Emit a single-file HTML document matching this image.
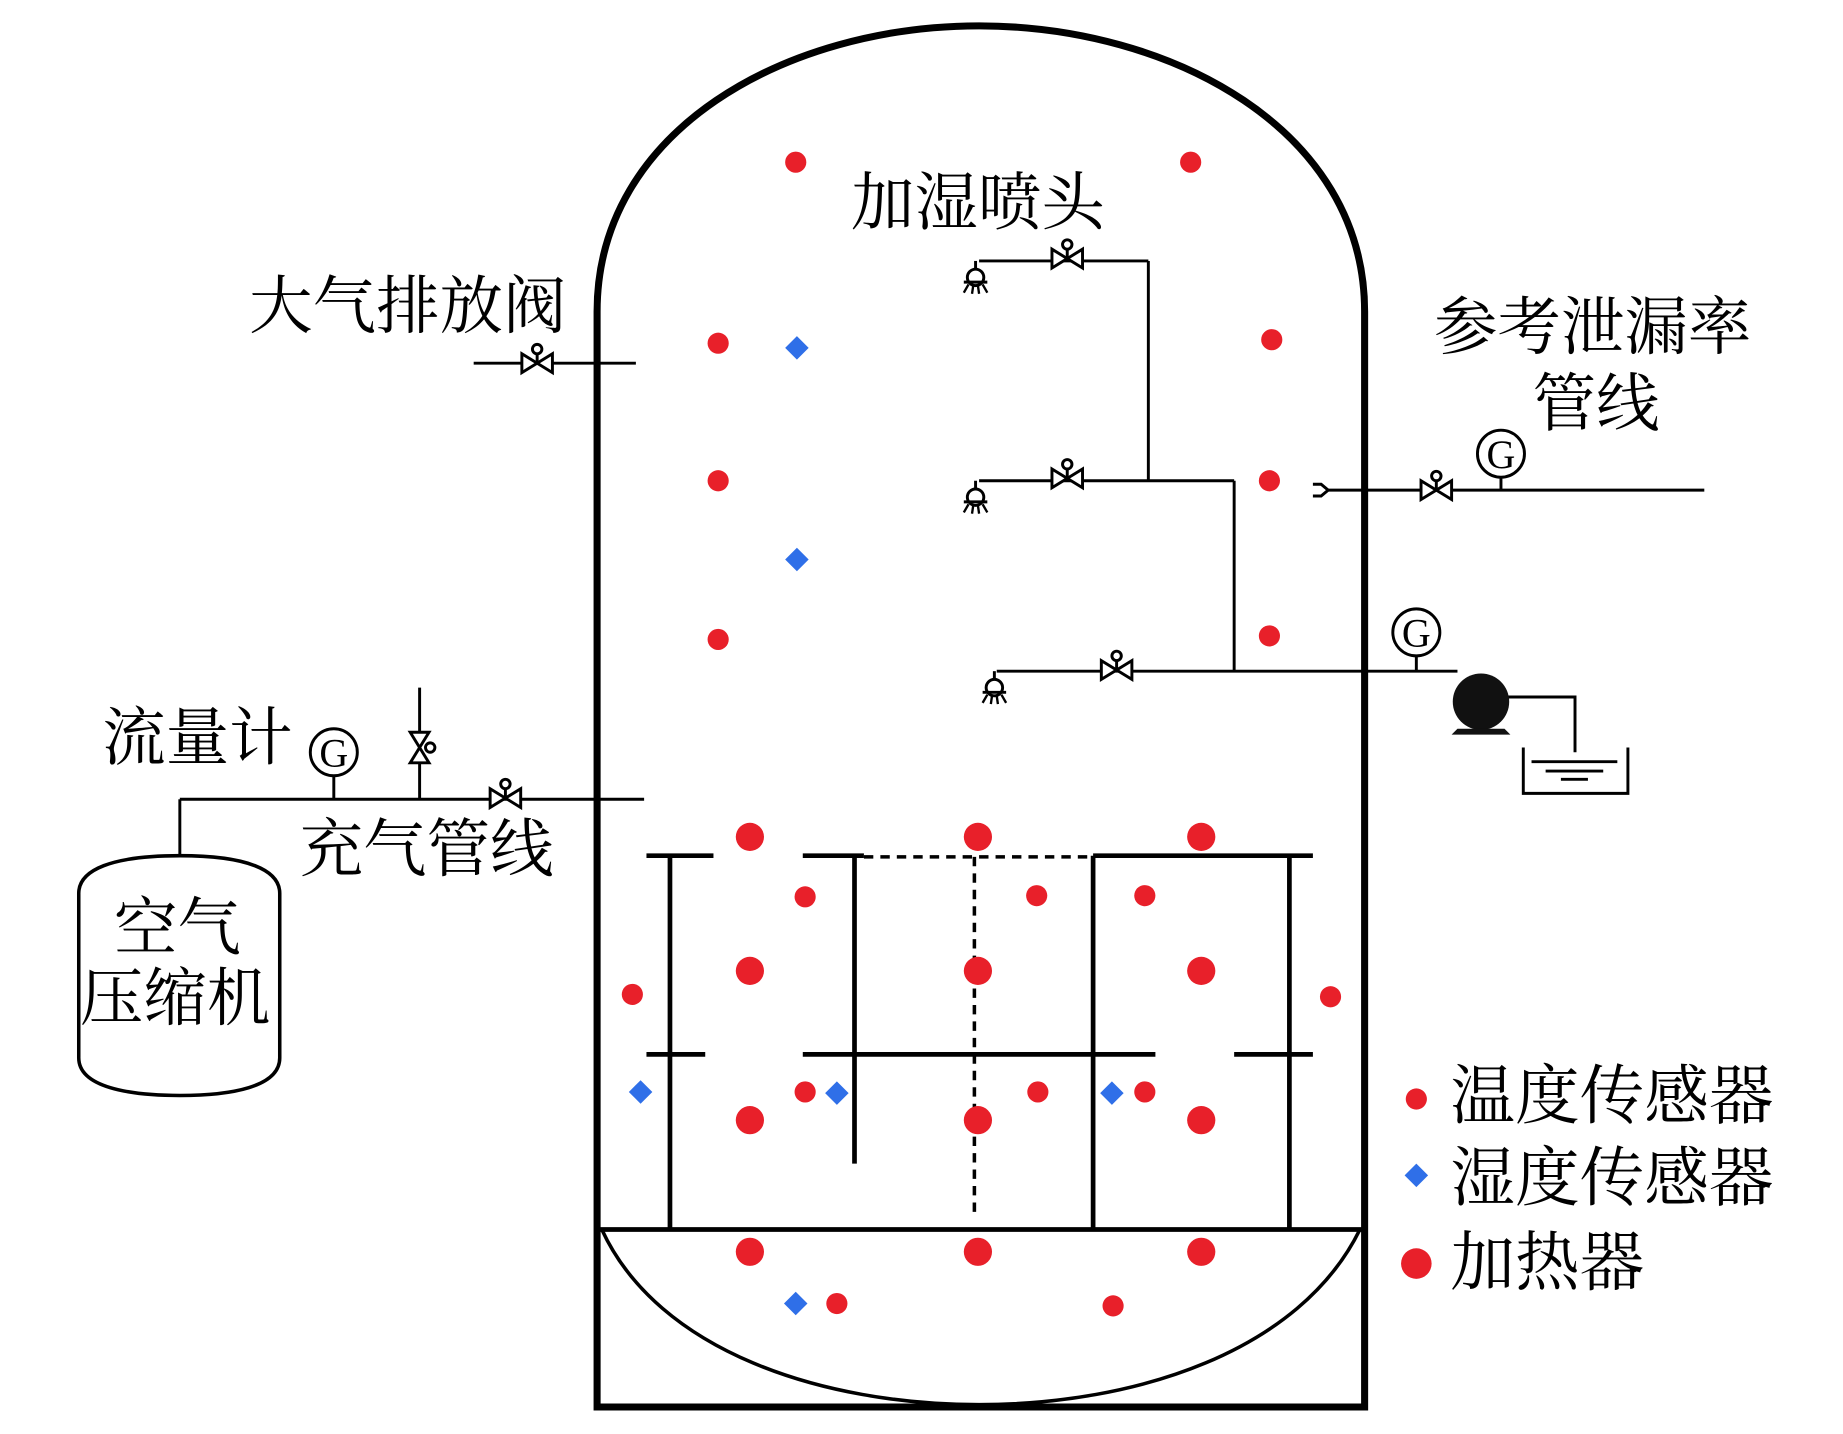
<!DOCTYPE html>
<html><head><meta charset="utf-8"><style>
html,body{margin:0;padding:0;background:#fff;}
svg{display:block;}
text{font-family:"Liberation Serif","Noto Serif CJK SC","Noto Sans CJK SC",serif;fill:#000;}
</style></head><body>
<svg width="1843" height="1434" viewBox="0 0 1568 1220" preserveAspectRatio="none" xmlns="http://www.w3.org/2000/svg">
<defs>
<g id="vh"><path d="M-13,-8 L13,8 L13,-8 L-13,8 Z" fill="#fff" stroke="#000" stroke-width="2.5"/><line x1="0" y1="0" x2="0" y2="-10" stroke="#000" stroke-width="2.5"/><circle cx="0" cy="-12" r="4" fill="#fff" stroke="#000" stroke-width="2.5"/></g>
<g id="nz"><circle cx="0" cy="0" r="7" fill="#fff" stroke="#000" stroke-width="2.5"/><line x1="-10" y1="4" x2="10" y2="4" stroke="#000" stroke-width="2.5"/><path d="M-6,6 L-10,13 M-2,7 L-3,14 M2,7 L3,14 M6,6 L10,13" stroke="#000" stroke-width="2"/><line x1="0" y1="-7" x2="0" y2="-14" stroke="#000" stroke-width="2.5"/></g>
<g id="gg"><circle cx="0" cy="0" r="20" fill="#fff" stroke="#000" stroke-width="2.5"/><text x="0" y="12" font-size="34" text-anchor="middle">G</text></g>
</defs>
<g fill="none" stroke="#000">
<path d="M508,1197 L508,265 C508,110 670,22 833,22 C996,22 1161,110 1161,265 L1161,1197 Z" stroke-width="6"/>
<line x1="508" y1="1046" x2="1161" y2="1046" stroke-width="4"/>
<path d="M512,1046 C560,1150 700,1195 833,1195 C966,1195 1106,1150 1157,1046" stroke-width="3"/>
<g stroke-width="4">
<line x1="570" y1="728" x2="570" y2="1045"/><line x1="727" y1="728" x2="727" y2="990"/>
<line x1="930" y1="728" x2="930" y2="1045"/><line x1="1097" y1="728" x2="1097" y2="1045"/>
<line x1="550" y1="728" x2="607" y2="728"/><line x1="683" y1="728" x2="735" y2="728"/>
<line x1="930" y1="728" x2="1117" y2="728"/>
<line x1="550" y1="897" x2="600" y2="897"/><line x1="683" y1="897" x2="983" y2="897"/><line x1="1050" y1="897" x2="1117" y2="897"/>
</g>
<g stroke-width="3" stroke-dasharray="8,6"><line x1="735" y1="729" x2="930" y2="729"/><line x1="829" y1="729" x2="829" y2="1032"/></g>
<g stroke-width="2.5">
<line x1="833" y1="222" x2="977" y2="222"/><line x1="977" y1="222" x2="977" y2="409"/>
<line x1="833" y1="409" x2="1050" y2="409"/><line x1="1050" y1="409" x2="1050" y2="571"/>
<line x1="848" y1="571" x2="1240" y2="571"/>
<line x1="403" y1="309" x2="541" y2="309"/>
<line x1="1130" y1="417" x2="1450" y2="417"/>
<path d="M1117,412 L1124,412 L1130,417 L1124,422 L1117,422"/>
<line x1="1277" y1="406" x2="1277" y2="417"/>
<line x1="1205" y1="558" x2="1205" y2="571"/>
<path d="M1282,593 L1340,593 L1340,640"/>
<path d="M1296,636 L1296,675 L1385,675 L1385,636"/>
<line x1="1303" y1="648" x2="1376" y2="648"/><line x1="1315" y1="656" x2="1364" y2="656"/><line x1="1328" y1="663" x2="1351" y2="663"/>
<line x1="153" y1="680" x2="548" y2="680"/><line x1="153" y1="680" x2="153" y2="728"/>
<line x1="284" y1="660" x2="284" y2="680"/>
<line x1="357" y1="585" x2="357" y2="680"/>
</g>
<path d="M153,728 C95,728 67,740 67,760 L67,900 C67,925 110,932 153,932 C196,932 238,925 238,900 L238,760 C238,740 210,728 153,728 Z" stroke-width="3"/>
</g>
<circle cx="1260" cy="597" r="24" fill="#111"/>
<path d="M1240,620 L1280,620 L1285,625 L1235,625 Z" fill="#111"/>
<use href="#vh" x="908" y="220"/><use href="#vh" x="908" y="407"/><use href="#vh" x="950" y="570"/>
<use href="#vh" x="457" y="309"/><use href="#vh" x="1222" y="417"/><use href="#vh" x="430" y="679"/>
<g transform="translate(357,636) rotate(90)"><path d="M-13,-8 L13,8 L13,-8 L-13,8 Z" fill="#fff" stroke="#000" stroke-width="2.5"/><circle cx="0" cy="-9" r="4" fill="#fff" stroke="#000" stroke-width="2.5"/></g>
<use href="#nz" x="830" y="236"/><use href="#nz" x="830" y="423"/><use href="#nz" x="846" y="585"/>
<use href="#gg" x="1277" y="386"/><use href="#gg" x="1205" y="538"/><use href="#gg" x="284" y="640"/>
<g fill="#e8202a">
<circle cx="638" cy="712" r="12"/><circle cx="832" cy="712" r="12"/><circle cx="1022" cy="712" r="12"/>
<circle cx="638" cy="826" r="12"/><circle cx="832" cy="826" r="12"/><circle cx="1022" cy="826" r="12"/>
<circle cx="638" cy="953" r="12"/><circle cx="832" cy="953" r="12"/><circle cx="1022" cy="953" r="12"/>
<circle cx="638" cy="1065" r="12"/><circle cx="832" cy="1065" r="12"/><circle cx="1022" cy="1065" r="12"/>
<circle cx="1205" cy="1075" r="13"/>
<circle cx="677" cy="138" r="9"/><circle cx="1013" cy="138" r="9"/><circle cx="611" cy="292" r="9"/><circle cx="1082" cy="289" r="9"/>
<circle cx="611" cy="409" r="9"/><circle cx="1080" cy="409" r="9"/><circle cx="611" cy="544" r="9"/><circle cx="1080" cy="541" r="9"/>
<circle cx="685" cy="763" r="9"/><circle cx="882" cy="762" r="9"/><circle cx="974" cy="762" r="9"/>
<circle cx="538" cy="846" r="9"/><circle cx="1132" cy="848" r="9"/>
<circle cx="685" cy="929" r="9"/><circle cx="883" cy="929" r="9"/><circle cx="974" cy="929" r="9"/>
<circle cx="712" cy="1109" r="9"/><circle cx="947" cy="1111" r="9"/><circle cx="1205" cy="935" r="9"/>
</g>
<g fill="#2f6fe8">
<path d="M678,286 L688,296 L678,306 L668,296Z"/><path d="M678,466 L688,476 L678,486 L668,476Z"/>
<path d="M545,919 L555,929 L545,939 L535,929Z"/><path d="M712,920 L722,930 L712,940 L702,930Z"/>
<path d="M946,920 L956,930 L946,940 L936,930Z"/><path d="M677,1099 L687,1109 L677,1119 L667,1109Z"/>
<path d="M1205,990 L1215,1000 L1205,1010 L1195,1000Z"/>
</g>
<g font-size="54">
<text x="724" y="191">加湿喷头</text>
<text x="212" y="279">大气排放阀</text>
<text x="1220" y="297">参考泄漏率</text>
<text x="1304" y="362">管线</text>
<text x="87" y="646">流量计</text>
<text x="255" y="741">充气管线</text>
<text x="97" y="808">空气</text>
<text x="68" y="868">压缩机</text>
</g>
<g font-size="55">
<text x="1234" y="951">温度传感器</text>
<text x="1234" y="1021">湿度传感器</text>
<text x="1234" y="1093">加热器</text>
</g>
</svg>
</body></html>
